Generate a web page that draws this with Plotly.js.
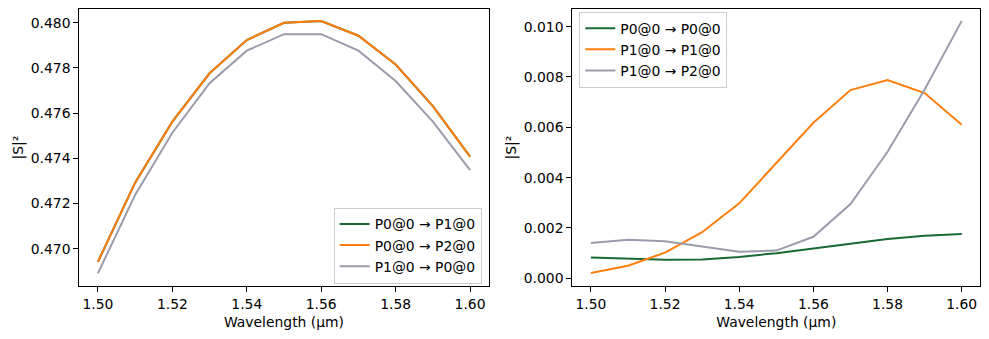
<!DOCTYPE html>
<html>
<head>
<meta charset="utf-8">
<script src="https://cdn.plot.ly/plotly-3.0.1.min.js"></script>
<style>html,body{margin:0;padding:0;background:#fff;}#chart{width:989px;height:339px;}</style>
</head>
<body>
<div id="chart"></div>
<script>
const wavelength = [1.50, 1.51, 1.52, 1.53, 1.54, 1.55, 1.56, 1.57, 1.58, 1.59, 1.60];

// Left panel
const s_P0_P1 = [0.46942, 0.47292, 0.47562, 0.47776, 0.47923, 0.47999, 0.48007, 0.47942, 0.47815, 0.47631, 0.47407];
const s_P0_P2 = [0.46942, 0.47292, 0.47562, 0.47776, 0.47923, 0.47999, 0.48007, 0.47942, 0.47815, 0.47631, 0.47407];
const s_P1_P0 = [0.46891, 0.47238, 0.47513, 0.47732, 0.47876, 0.47949, 0.47949, 0.47876, 0.47742, 0.47562, 0.47348];

// Right panel
const s_P0_P0 = [0.00083, 0.00077, 0.00074, 0.00075, 0.00085, 0.00100, 0.00119, 0.00139, 0.00156, 0.00169, 0.00176];
const s_P1_P1 = [0.00021, 0.00050, 0.00102, 0.00183, 0.00298, 0.00457, 0.00618, 0.00748, 0.00788, 0.00736, 0.00610];
const s_P1_P2 = [0.00140, 0.00153, 0.00147, 0.00126, 0.00106, 0.00110, 0.00165, 0.00295, 0.00503, 0.00750, 0.01023];

const names_left = ["P0@0 → P1@0", "P0@0 → P2@0", "P1@0 → P0@0"];
const names_right = ["P0@0 → P0@0", "P1@0 → P1@0", "P1@0 → P2@0"];

const GREEN = "#1a6834", ORANGE = "#ff7f0e", GRAY = "#9b9bab";
const FONT = "DejaVu Sans, sans-serif";
const FS = 13.9;

const traces = [
  {x: wavelength, y: s_P0_P1, name: names_left[0], mode: "lines", line: {color: GREEN, width: 2}, xaxis: "x", yaxis: "y", legend: "legend"},
  {x: wavelength, y: s_P0_P2, name: names_left[1], mode: "lines", line: {color: ORANGE, width: 2}, xaxis: "x", yaxis: "y", legend: "legend"},
  {x: wavelength, y: s_P1_P0, name: names_left[2], mode: "lines", line: {color: GRAY, width: 2}, xaxis: "x", yaxis: "y", legend: "legend"},
  {x: wavelength, y: s_P0_P0, name: names_right[0], mode: "lines", line: {color: GREEN, width: 2}, xaxis: "x2", yaxis: "y2", legend: "legend2"},
  {x: wavelength, y: s_P1_P1, name: names_right[1], mode: "lines", line: {color: ORANGE, width: 2}, xaxis: "x2", yaxis: "y2", legend: "legend2"},
  {x: wavelength, y: s_P1_P2, name: names_right[2], mode: "lines", line: {color: GRAY, width: 2}, xaxis: "x2", yaxis: "y2", legend: "legend2"}
];

const axCommon = {
  showline: true, linecolor: "#000", linewidth: 1, mirror: true,
  ticks: "outside", ticklen: 5, tickwidth: 1, tickcolor: "#000",
  showgrid: false, zeroline: false,
  tickfont: {family: FONT, size: FS, color: "#000"}
};
const xCommon = Object.assign({}, axCommon, {
  range: [1.495, 1.605], tickmode: "array",
  tickvals: [1.50, 1.52, 1.54, 1.56, 1.58, 1.60], tickformat: ".2f",
  title: {text: "Wavelength (µm)", font: {family: FONT, size: FS, color: "#000"}, standoff: 6}
});

const dy = [1 - 286/339, 1 - 9.3/339];

const layout = {
  width: 989, height: 339,
  margin: {l: 0, r: 0, t: 0, b: 0},
  paper_bgcolor: "#fff", plot_bgcolor: "#fff",
  font: {family: FONT, size: FS, color: "#000"},
  xaxis: Object.assign({}, xCommon, {domain: [79.3/989, 488.7/989], anchor: "y", automargin: false}),
  xaxis2: Object.assign({}, xCommon, {domain: [572.3/989, 980.3/989], anchor: "y2", automargin: false}),
  yaxis: Object.assign({}, axCommon, {
    domain: dy, anchor: "x", range: [0.46835, 0.48059], automargin: false,
    tickmode: "array", tickvals: [0.470, 0.472, 0.474, 0.476, 0.478, 0.480], tickformat: ".3f",
    title: {text: "|S|²", font: {family: FONT, size: FS, color: "#000"}, standoff: 3}
  }),
  yaxis2: Object.assign({}, axCommon, {
    domain: dy, anchor: "x2", range: [-0.000306, 0.01069], automargin: false,
    tickmode: "array", tickvals: [0, 0.002, 0.004, 0.006, 0.008, 0.010], tickformat: ".3f",
    title: {text: "|S|²", font: {family: FONT, size: FS, color: "#000"}, standoff: 3}
  }),
  showlegend: true,
  legend: {
    x: 481.7/989, y: 1 - 245.5/339, xanchor: "right", yanchor: "middle",
    bgcolor: "rgba(255,255,255,0.8)", bordercolor: "#cccccc", borderwidth: 1,
    font: {family: FONT, size: FS, color: "#000"}, tracegroupgap: 0, itemwidth: 30
  },
  legend2: {
    x: 579.3/989, y: 1 - 49.7/339, xanchor: "left", yanchor: "middle",
    bgcolor: "rgba(255,255,255,0.8)", bordercolor: "#cccccc", borderwidth: 1,
    font: {family: FONT, size: FS, color: "#000"}, tracegroupgap: 0, itemwidth: 30
  }
};

Plotly.newPlot("chart", traces, layout, {staticPlot: true, displayModeBar: false});
</script>
</body>
</html>
